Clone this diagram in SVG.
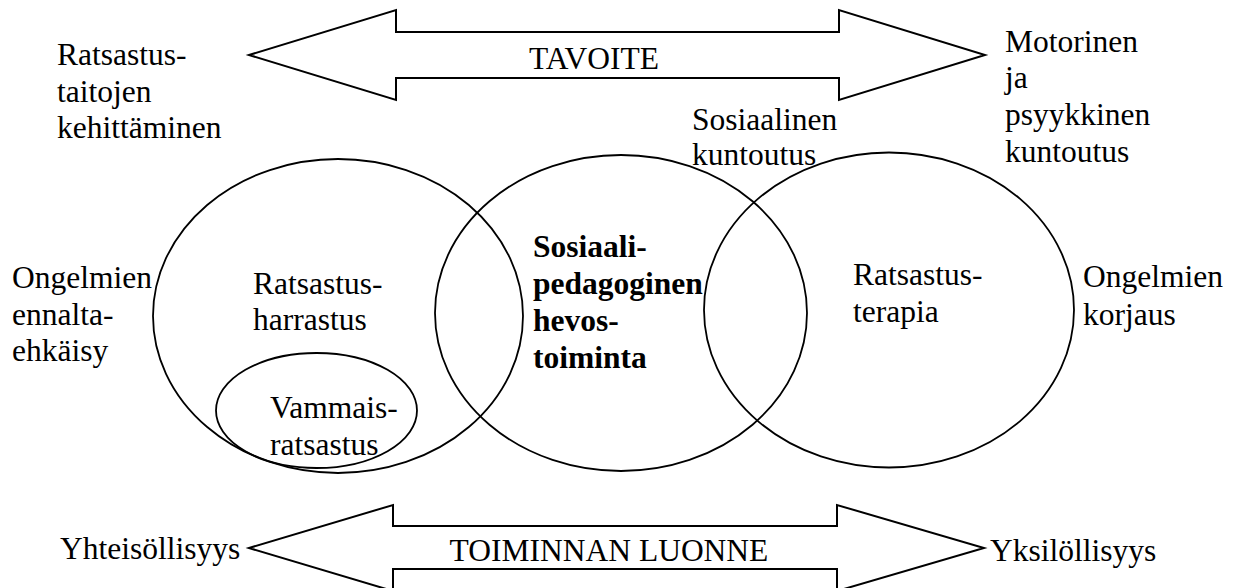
<svg xmlns="http://www.w3.org/2000/svg" width="1241" height="588" viewBox="0 0 1241 588">
<style>
.t{font-size:31.5px;fill:#000}
.b{font-weight:bold}
.s{fill:none;stroke:#000;stroke-width:2}
.e{fill:none;stroke:#000;stroke-width:1.8}
</style>
<rect width="1241" height="588" fill="#fff"/>
<g font-family="Liberation Serif, DejaVu Serif, serif">
<g id="arrow-tavoite">
<polygon class="s" points="249,55 396,10 396,32 839,32 839,10 985,55 839,100 839,78 396,78 396,100"/>
<text class="t" x="594" y="69" text-anchor="middle">TAVOITE</text>
</g>
<g id="arrow-toiminnan-luonne">
<polygon class="s" points="249,548 393,505 393,526 837,526 837,505 984,548 837,591 837,569 393,569 393,591"/>
<text class="t" x="609" y="561" text-anchor="middle">TOIMINNAN LUONNE</text>
</g>
<g id="ellipse-harrastus">
<ellipse class="e" cx="338" cy="316" rx="185" ry="157"/>
<text class="t" x="253" y="294">Ratsastus-</text>
<text class="t" x="253" y="330">harrastus</text>
</g>
<g id="ellipse-vammais">
<ellipse class="e" cx="316.5" cy="410.5" rx="100.5" ry="57.5"/>
<text class="t" x="270" y="418">Vammais-</text>
<text class="t" x="270" y="455">ratsastus</text>
</g>
<g id="ellipse-sosiaalipedagoginen">
<ellipse class="e" cx="621" cy="313" rx="186" ry="158"/>
<text class="t b" x="533" y="257">Sosiaali-</text>
<text class="t b" x="533" y="294">pedagoginen</text>
<text class="t b" x="533" y="331">hevos-</text>
<text class="t b" x="533" y="368">toiminta</text>
</g>
<g id="ellipse-terapia">
<ellipse class="e" cx="889" cy="310" rx="185" ry="157.5"/>
<text class="t" x="853" y="285">Ratsastus-</text>
<text class="t" x="853" y="322">terapia</text>
</g>
<g id="label-ratsastustaitojen">
<text class="t" x="57" y="65">Ratsastus-</text>
<text class="t" x="57" y="102">taitojen</text>
<text class="t" x="57" y="138">kehittäminen</text>
</g>
<g id="label-motorinen">
<text class="t" x="1005" y="52">Motorinen</text>
<text class="t" x="1005" y="88">ja</text>
<text class="t" x="1005" y="125">psyykkinen</text>
<text class="t" x="1005" y="162">kuntoutus</text>
</g>
<g id="label-sosiaalinen">
<text class="t" x="692" y="130">Sosiaalinen</text>
<text class="t" x="692" y="165">kuntoutus</text>
</g>
<g id="label-ennaltaehkaisy">
<text class="t" x="12" y="288">Ongelmien</text>
<text class="t" x="12" y="324.5">ennalta-</text>
<text class="t" x="12" y="361">ehkäisy</text>
</g>
<g id="label-korjaus">
<text class="t" x="1083" y="287">Ongelmien</text>
<text class="t" x="1083" y="325">korjaus</text>
</g>
<g id="label-yhteisollisyys">
<text class="t" x="60" y="559">Yhteisöllisyys</text>
</g>
<g id="label-yksilollisyys">
<text class="t" x="990" y="561">Yksilöllisyys</text>
</g>
</g>
<g id="connectors"></g>
</svg>
